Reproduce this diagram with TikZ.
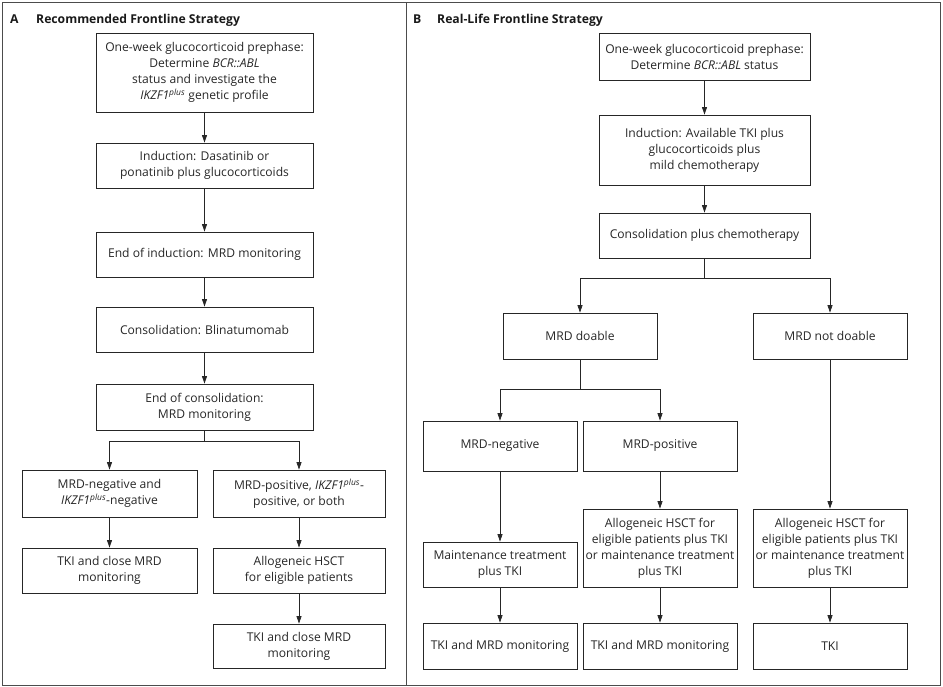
\documentclass[tikz,border=0pt]{standalone}
\usepackage{fontspec}
\setmainfont{Open Sans}
\usetikzlibrary{arrows.meta}
\begin{document}
\begin{tikzpicture}[x=1pt,y=-1pt,
  box/.style 2 args={draw=black!85, line width=0.8pt, align=center, inner sep=0pt,
    minimum width=#1pt, minimum height=#2pt,
    font=\fontsize{12.1}{16}\selectfont, text=black!85},
  arr/.style={-{Triangle[length=7.5pt,width=5pt]}, line width=0.7pt, draw=black!85},
  ln/.style={line width=0.7pt, draw=black!85},
  ttl/.style={anchor=base west, inner sep=0pt, font=\bfseries\fontsize{12.2}{15}\selectfont, text=black!90}]
\useasboundingbox (0,0) rectangle (943,687);
\draw[line width=1pt, black!70] (2.5,2.5) rectangle (940.5,685);
\draw[line width=1pt, black!70] (406,2.5) -- (406,685);

% titles
\node[ttl] (ta) at (10,24) {A};
\node[ttl] (tat) at (36,24) {Recommended Frontline Strategy};
\node[ttl] (tb) at (413,24) {B};
\node[ttl] (tbt) at (437,24) {Real-Life Frontline Strategy};

% Panel A
\node[box={217}{79}] (a1) at (204.5,72.5) {One-week glucocorticoid prephase:\\Determine \textit{BCR::ABL}\\status and investigate the\\\textit{IKZF1\textsuperscript{plus}} genetic profile};
\node[box={217}{45}] (a2) at (204.5,165.5) {Induction: Dasatinib or\\ponatinib plus glucocorticoids};
\node[box={217}{45}] (a3) at (204.5,254.5) {End of induction: MRD monitoring};
\node[box={217}{45}] (a4) at (204.5,329.5) {Consolidation: Blinatumomab};
\node[box={217}{46}] (a5) at (204.5,407) {End of consolidation:\\MRD monitoring};
\node[box={175}{47}] (a6l) at (109.5,493.5) {MRD-negative and\\\textit{IKZF1\textsuperscript{plus}}-negative};
\node[box={172}{47}] (a6r) at (299,493.5) {MRD-positive, \textit{IKZF1\textsuperscript{plus}}-\\positive, or both};
\node[box={175}{45}] (a7l) at (109.5,570.5) {TKI and close MRD\\monitoring};
\node[box={172}{45}] (a7r) at (299,570.5) {Allogeneic HSCT\\for eligible patients};
\node[box={172}{44}] (a8r) at (299,646) {TKI and close MRD\\monitoring};
\coordinate (ja) at (204.5,441);

\draw[arr] (a1) -- (a2);
\draw[arr] (a2) -- (a3);
\draw[arr] (a3) -- (a4);
\draw[arr] (a4) -- (a5);
\draw[ln] (a5) -- (ja);
\draw[arr] (ja) -| (a6l);
\draw[arr] (ja) -| (a6r);
\draw[arr] (a6l) -- (a7l);
\draw[arr] (a6r) -- (a7r);
\draw[arr] (a7r) -- (a8r);

% Panel B
\node[box={211}{47}] (b1) at (704.5,56.5) {One-week glucocorticoid prephase:\\Determine \textit{BCR::ABL} status};
\node[box={211}{70}] (b2) at (704.5,150) {Induction: Available TKI plus\\glucocorticoids plus\\mild chemotherapy};
\node[box={211}{45}] (b3) at (704.5,235.5) {Consolidation plus chemotherapy};
\node[box={154}{46}] (b4) at (580,336) {MRD doable};
\node[box={154}{46}] (b5) at (830,336) {MRD not doable};
\node[box={154}{50}] (b6) at (500,446) {MRD-negative};
\node[box={154}{50}] (b7) at (660,446) {MRD-positive};
\node[box={154}{45}] (b8) at (500,564.5) {Maintenance treatment\\plus TKI};
\node[box={154}{78}] (b9) at (660,548) {Allogeneic HSCT for\\eligible patients plus TKI\\or maintenance treatment\\plus TKI};
\node[box={154}{78}] (b10) at (830,548) {Allogeneic HSCT for\\eligible patients plus TKI\\or maintenance treatment\\plus TKI};
\node[box={154}{46}] (b11) at (500,646) {TKI and MRD monitoring};
\node[box={154}{46}] (b12) at (660,646) {TKI and MRD monitoring};
\node[box={154}{46}] (b13) at (830,646) {TKI};
\coordinate (jb) at (704.5,278);
\coordinate (jc) at (580,389);

\draw[arr] (b1) -- (b2);
\draw[arr] (b2) -- (b3);
\draw[ln] (b3) -- (jb);
\draw[arr] (jb) -| (b4);
\draw[arr] (jb) -| (b5);
\draw[ln] (b4) -- (jc);
\draw[arr] (jc) -| (b6);
\draw[arr] (jc) -| (b7);
\draw[arr] (b5) -- (b10);
\draw[arr] (b6) -- (b8);
\draw[arr] (b7) -- (b9);
\draw[arr] (b8) -- (b11);
\draw[arr] (b9) -- (b12);
\draw[arr] (b10) -- (b13);
\end{tikzpicture}
\end{document}
